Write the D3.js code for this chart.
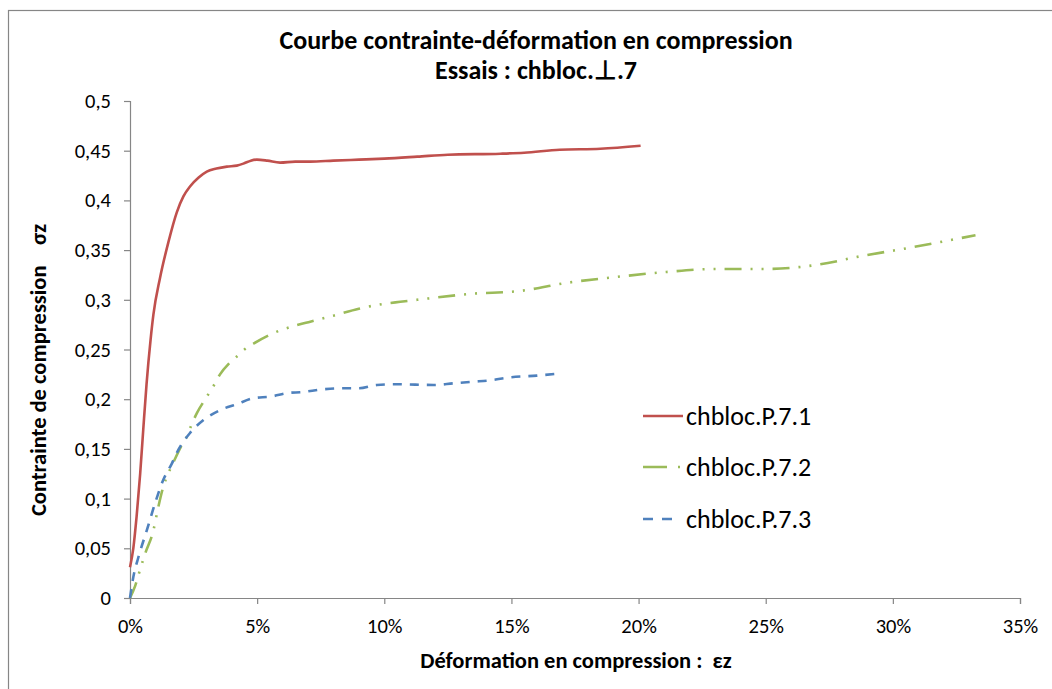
<!DOCTYPE html>
<html><head><meta charset="utf-8">
<script src="https://cdn.jsdelivr.net/npm/d3@7"></script>
<style>
body{margin:0;background:#fff;}
svg{display:block;font-family:Carlito,Calibri,Lato,"Open Sans",sans-serif;}
text{white-space:pre;}
</style></head>
<body><svg id="c" width="1052" height="689"></svg>
<script>
const titleLines = ["Courbe contrainte-déformation en compression", "Essais : chbloc.\u22A5.7"];
const xTitle = "Déformation en compression :  \u03B5z";
const yTitle = "Contrainte de compression    \u03C3z";
const seriesNames = ["chbloc.P.7.1", "chbloc.P.7.2", "chbloc.P.7.3"];
const xTicks = [0, 0.05, 0.10, 0.15, 0.20, 0.25, 0.30, 0.35];
const yTicks = [0, 0.05, 0.1, 0.15, 0.2, 0.25, 0.3, 0.35, 0.4, 0.45, 0.5];

// strain in %, stress
const s1x = [0,0.13,0.26,0.4,0.52,0.65,0.81,0.92,1.18,1.51,1.84,2.1,2.36,2.7,3.02,3.4,3.81,4.2,4.46,4.75,4.99,5.4,5.9,6.5,7.09,8,9,10,11.3,12.5,14.57,15.5,16.9,18.5,20.08];
const s1y = [0.031,0.05,0.082,0.125,0.169,0.215,0.26,0.285,0.322,0.358,0.388,0.404,0.414,0.423,0.429,0.432,0.434,0.435,0.437,0.440,0.441,0.440,0.438,0.439,0.439,0.440,0.441,0.442,0.444,0.446,0.447,0.448,0.451,0.452,0.455];
const s2x = [0,0.2,0.39,0.6,0.92,1.1,1.31,1.5,1.7,2.0,2.23,2.43,2.63,3.02,3.3,3.54,3.9,4.2,4.5,4.86,5.78,6.5,7.09,8,9,10,10.63,11.45,13.4,15.37,17.16,19.13,21.09,23.05,25.0,26.97,28.77,30.73,33.25];
const s2y = [0,0.012,0.028,0.045,0.068,0.09,0.112,0.125,0.136,0.152,0.162,0.175,0.186,0.2025,0.214,0.225,0.236,0.243,0.25,0.256,0.268,0.274,0.278,0.284,0.291,0.296,0.298,0.3005,0.306,0.309,0.317,0.323,0.328,0.331,0.331,0.335,0.344,0.3527,0.365];
const s3x = [0,0.13,0.33,0.66,0.98,1.31,1.64,1.9,2.36,2.89,3.54,4.2,4.86,5.5,6.3,6.69,7.6,8.27,9,9.71,10.5,11.94,12.73,13.52,14.17,14.96,16.0,16.73];
const s3y = [0,0.021,0.041,0.068,0.095,0.119,0.135,0.149,0.166,0.179,0.189,0.195,0.201,0.2025,0.2065,0.207,0.21,0.211,0.211,0.2143,0.215,0.2143,0.216,0.2176,0.219,0.222,0.2237,0.2254];

const colors = ["#C0504D", "#9BBB59", "#4F81BD"];
const dashes = [null, "17,9,2,9,2,9", "9,8"];

const svg = d3.select("#c");
const W = 1052, H = 689;
const m = {left:130, right:1052-1020, top:101, bottom:689-598};
const x = d3.scaleLinear().domain([0,0.35]).range([m.left, W-m.right]);
const y = d3.scaleLinear().domain([0,0.5]).range([H-m.bottom, m.top]);

// outer frame
svg.append("rect").attr("x",8.5).attr("y",10.5).attr("width",1100).attr("height",700)
  .attr("fill","none").attr("stroke","#868686").attr("stroke-width",1.2);

// title
svg.append("text").attr("x",536).attr("y",49).attr("text-anchor","middle")
  .attr("font-size",26).attr("font-weight","bold").attr("fill","#000").text(titleLines[0]);
svg.append("text").attr("x",536).attr("y",79).attr("text-anchor","middle")
  .attr("font-size",26).attr("font-weight","bold").attr("fill","#000").text(titleLines[1]);

// axes
const fmtY = d => d3.format("")(d).replace(".", ",");
const yAxis = svg.append("g").attr("transform",`translate(${m.left},0)`)
  .call(d3.axisLeft(y).tickValues(yTicks).tickSize(6).tickPadding(13).tickFormat(fmtY));
const xAxis = svg.append("g").attr("transform",`translate(0,${H-m.bottom})`)
  .call(d3.axisBottom(x).tickValues(xTicks).tickSize(6).tickPadding(14).tickFormat(d3.format(".0%")));
[yAxis,xAxis].forEach(g=>{
  g.selectAll("path,line").attr("stroke","#868686").attr("stroke-width",1.2);
  g.selectAll("text").attr("font-size",20.5).attr("fill","#000").attr("font-family","Carlito,Calibri,Lato,sans-serif");
});

// axis titles
svg.append("text").attr("x",576).attr("y",668).attr("text-anchor","middle")
  .attr("font-size",22.5).attr("font-weight","bold").attr("fill","#000").text(xTitle);
svg.append("text").attr("transform","translate(46,370) rotate(-90)").attr("text-anchor","middle")
  .attr("font-size",22.5).attr("font-weight","bold").attr("fill","#000").text(yTitle);

// series
const series = [[s1x,s1y],[s2x,s2y],[s3x,s3y]];
const line = d3.line().x(d=>x(d[0]/100)).y(d=>y(d[1])).curve(d3.curveMonotoneX);
series.forEach((s,i)=>{
  const pts = s[0].map((v,j)=>[v, s[1][j]]);
  const p = svg.append("path").datum(pts).attr("d", line)
    .attr("fill","none").attr("stroke",colors[i]).attr("stroke-width",2.6)
    .attr("stroke-linejoin","round");
  if (dashes[i]) p.attr("stroke-dasharray", dashes[i]);
});

// legend
const legY = [416, 467, 519];
const legDash = [null, "24,11,2,30", "10,9,10,20"];
seriesNames.forEach((n,i)=>{
  const l = svg.append("line").attr("x1",643).attr("x2",683).attr("y1",legY[i]).attr("y2",legY[i])
    .attr("stroke",colors[i]).attr("stroke-width",2.6);
  if (legDash[i]) l.attr("stroke-dasharray", legDash[i]);
  svg.append("text").attr("x",686).attr("y",legY[i]+9).attr("font-size",26).attr("fill","#000").text(n);
});
</script></body></html>
